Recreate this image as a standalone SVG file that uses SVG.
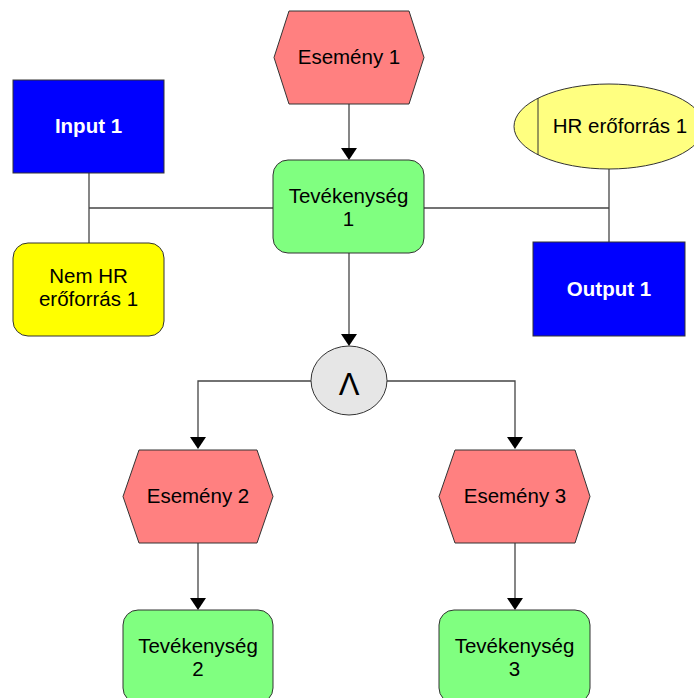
<svg xmlns="http://www.w3.org/2000/svg" width="694" height="698" viewBox="0 0 694 698">
<style>
.ev{fill:#FF8080;stroke:#333;stroke-width:1}
.fn{fill:#80FF80;stroke:#333;stroke-width:1}
.io{fill:#0000FF;stroke:#333;stroke-width:1}
.res{fill:#FFFF00;stroke:#333;stroke-width:1}
.hr{fill:#FFFF80;stroke:#333;stroke-width:1}
.op{fill:#E6E6E6;stroke:#333;stroke-width:1}
.t{font-family:"Liberation Sans",Arial,sans-serif;font-size:20.5px;fill:#000;text-anchor:middle}
.tw{font-family:"Liberation Sans",Arial,sans-serif;font-size:20.5px;font-weight:bold;fill:#fff;text-anchor:middle}
.c{fill:none;stroke:#444;stroke-width:1.3}
.ah{fill:#000}
</style>
<g id="connectors">
<line class="c" x1="349" y1="104" x2="349" y2="148"/>
<path class="ah" d="M341,148 L357,148 L349,160 Z"/>
<line class="c" x1="89" y1="173" x2="89" y2="243"/>
<line class="c" x1="89" y1="208" x2="273" y2="208"/>
<line class="c" x1="609" y1="169" x2="609" y2="242"/>
<line class="c" x1="424" y1="208" x2="609" y2="208"/>
<line class="c" x1="349" y1="253" x2="349" y2="334"/>
<path class="ah" d="M341,334 L357,334 L349,346 Z"/>
<polyline class="c" points="311,381 198,381 198,437"/>
<path class="ah" d="M190,437 L206,437 L198,449 Z"/>
<polyline class="c" points="387,381 515,381 515,437"/>
<path class="ah" d="M507,437 L523,437 L515,449 Z"/>
<line class="c" x1="198" y1="543" x2="198" y2="598"/>
<path class="ah" d="M190,598 L206,598 L198,610 Z"/>
<line class="c" x1="515" y1="543" x2="515" y2="598"/>
<path class="ah" d="M507,598 L523,598 L515,610 Z"/>
</g>
<g id="esemeny1">
<polygon class="ev" points="289,11 409,11 424,57.5 409,104 289,104 274,57.5"/>
<text class="t" x="349" y="64">Esemény 1</text>
</g>
<g id="input1">
<rect class="io" x="13" y="80" width="151" height="93"/>
<text class="tw" x="88.5" y="133">Input 1</text>
</g>
<g id="hr1">
<ellipse class="hr" cx="609" cy="126.5" rx="95" ry="42.5"/>
<line x1="538" y1="98" x2="538" y2="155" stroke="#333" stroke-width="1"/>
<text class="t" x="620" y="133">HR erőforrás 1</text>
</g>
<g id="tev1">
<rect class="fn" x="273" y="160" width="151" height="93" rx="15" ry="15"/>
<text class="t" x="348.5" y="203">Tevékenység</text>
<text class="t" x="348.5" y="226">1</text>
</g>
<g id="nemhr1">
<rect class="res" x="13" y="243" width="151" height="93" rx="15" ry="15"/>
<text class="t" x="88.5" y="283">Nem HR</text>
<text class="t" x="88.5" y="306">erőforrás 1</text>
</g>
<g id="output1">
<rect class="io" x="533" y="242" width="152" height="94"/>
<text class="tw" x="609" y="296">Output 1</text>
</g>
<g id="and">
<ellipse class="op" cx="349" cy="380.5" rx="38" ry="34.5"/>
<text class="t" x="349" y="395" style="font-size:31px">Λ</text>
</g>
<g id="esemeny2">
<polygon class="ev" points="139,450 257,450 273,496.5 257,543 139,543 123,496.5"/>
<text class="t" x="198" y="503">Esemény 2</text>
</g>
<g id="esemeny3">
<polygon class="ev" points="455,450 575,450 590,496.5 575,543 455,543 439,496.5"/>
<text class="t" x="515" y="503">Esemény 3</text>
</g>
<g id="tev2">
<rect class="fn" x="123" y="610" width="150" height="93" rx="15" ry="15"/>
<text class="t" x="198" y="653">Tevékenység</text>
<text class="t" x="198" y="676">2</text>
</g>
<g id="tev3">
<rect class="fn" x="439" y="610" width="151" height="93" rx="15" ry="15"/>
<text class="t" x="514.5" y="653">Tevékenység</text>
<text class="t" x="514.5" y="676">3</text>
</g>
</svg>
